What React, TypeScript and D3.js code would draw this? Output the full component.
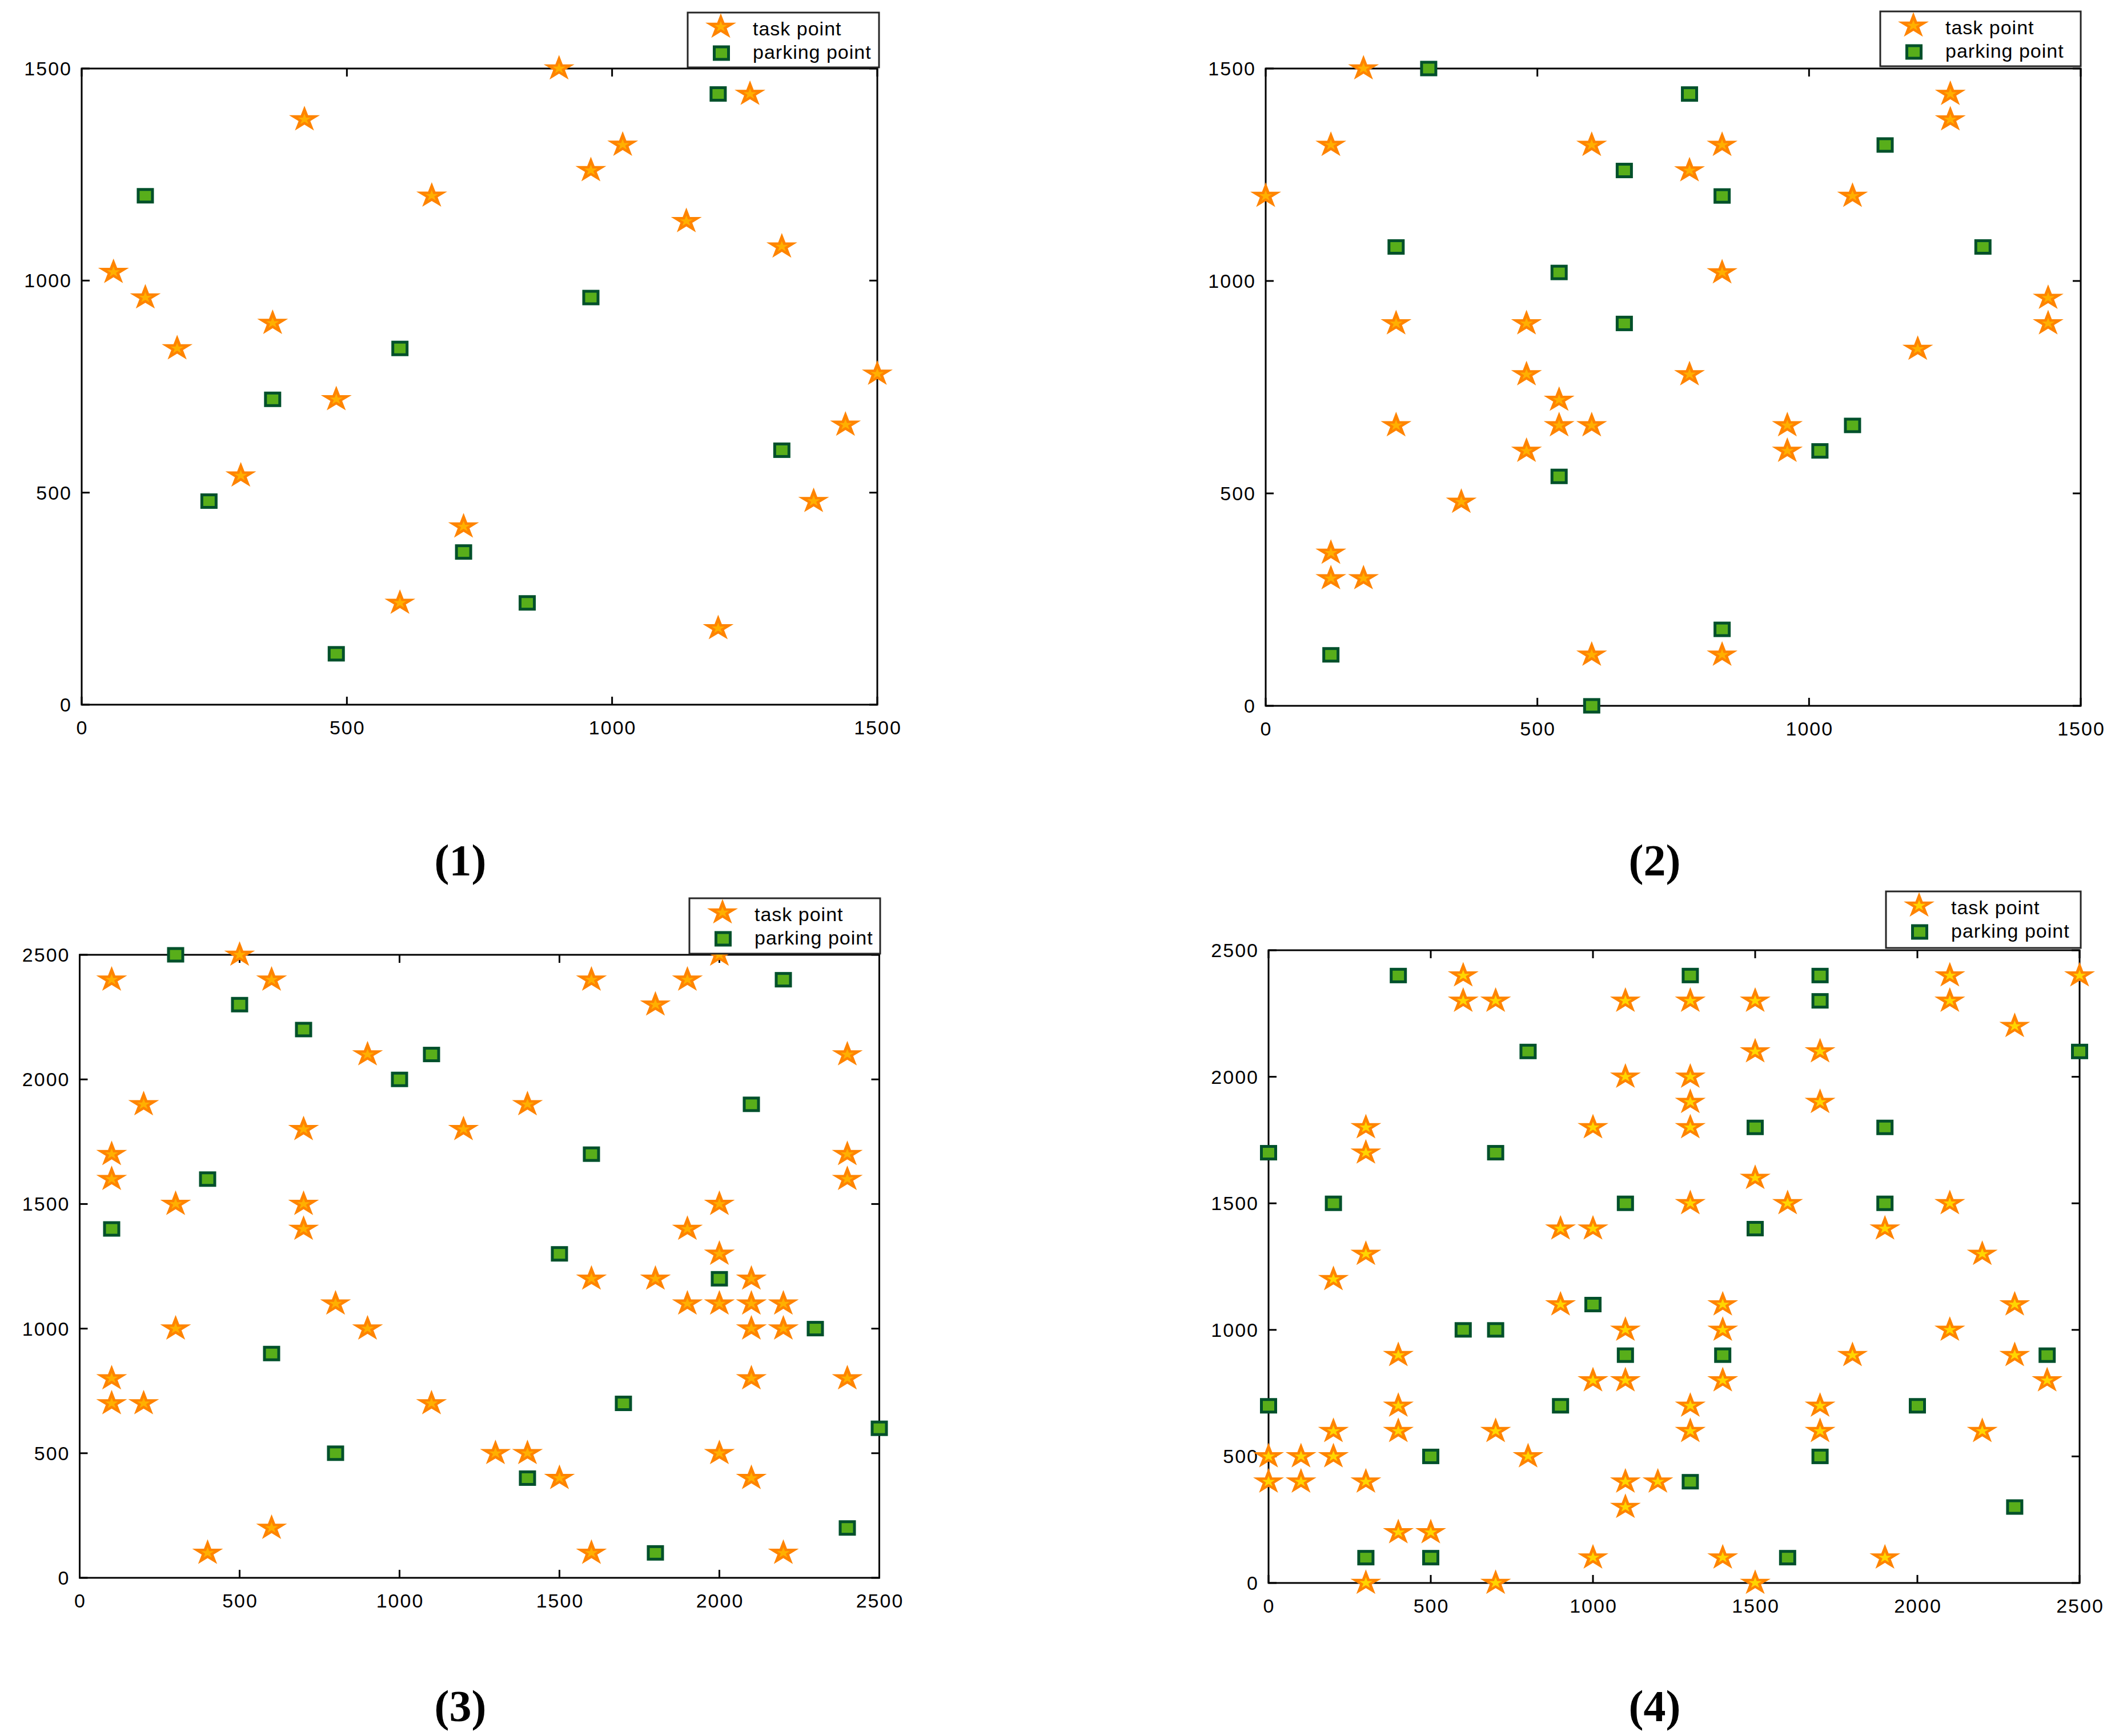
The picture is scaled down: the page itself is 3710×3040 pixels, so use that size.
import React, { useEffect } from 'react';
import * as d3 from 'd3';

const W = 3710;
const H = 3040;

// axis ticks and texts
const ticks1500 = [0, 500, 1000, 1500];
const ticks2500 = [0, 500, 1000, 1500, 2000, 2500];
const legendLabels = ['task point', 'parking point'];
const panelLabels = ['(1)', '(2)', '(3)', '(4)'];

// (1)
const task1 = [
  [60, 1020], [120, 960], [180, 840], [360, 900], [420, 1380], [480, 720], [300, 540],
  [660, 1200], [600, 240], [720, 420], [900, 1500], [960, 1260], [1020, 1320], [1140, 1140],
  [1260, 1440], [1320, 1080], [1200, 180], [1380, 480], [1440, 660], [1500, 780],
];
const park1 = [
  [120, 1200], [360, 720], [240, 480], [600, 840], [480, 120], [720, 360], [840, 240],
  [960, 960], [1200, 1440], [1320, 600],
];

// (2)
const task2 = [
  [0, 1200], [120, 1320], [180, 1500], [240, 900], [240, 660], [120, 360], [120, 300],
  [180, 300], [360, 480], [480, 900], [480, 780], [540, 720], [480, 600], [540, 660],
  [600, 660], [600, 1320], [600, 120], [780, 1260], [780, 780], [840, 1320], [840, 1020],
  [840, 120], [960, 660], [960, 600], [1080, 1200], [1200, 840], [1260, 1440], [1260, 1380],
  [1440, 960], [1440, 900],
];
const park2 = [
  [300, 1500], [240, 1080], [120, 120], [540, 1020], [540, 540], [660, 1260], [660, 900],
  [600, 0], [780, 1440], [840, 1200], [840, 180], [1020, 600], [1080, 660], [1140, 1320],
  [1320, 1080],
];

// (3)
const task3 = [
  [500, 2500], [100, 2400], [600, 2400], [900, 2100], [200, 1900], [700, 1800], [1200, 1800],
  [100, 1700], [100, 1600], [300, 1500], [700, 1500], [700, 1400], [800, 1100], [300, 1000],
  [900, 1000], [100, 800], [100, 700], [200, 700], [1100, 700], [600, 200], [400, 100],
  [2000, 2500], [1600, 2400], [1900, 2400], [1800, 2300], [2400, 2100], [1400, 1900],
  [2400, 1700], [2400, 1600], [2000, 1500], [1900, 1400], [2000, 1300], [1600, 1200],
  [1800, 1200], [2100, 1200], [1900, 1100], [2000, 1100], [2100, 1100], [2200, 1100],
  [2100, 1000], [2200, 1000], [2100, 800], [2400, 800], [1300, 500], [1400, 500], [1500, 400],
  [2000, 500], [2100, 400], [1600, 100], [2200, 100],
];
const park3 = [
  [300, 2500], [500, 2300], [700, 2200], [1100, 2100], [1000, 2000], [400, 1600], [100, 1400],
  [600, 900], [800, 500], [2200, 2400], [2100, 1900], [1600, 1700], [1500, 1300], [2000, 1200],
  [2300, 1000], [1700, 700], [1400, 400], [1800, 100], [2400, 200], [2500, 600],
];

// (4)
const task4 = [
  [600, 2400], [600, 2300], [700, 2300], [1100, 2300], [1100, 2000], [300, 1800], [300, 1700],
  [1000, 1800], [900, 1400], [1000, 1400], [300, 1300], [200, 1200], [900, 1100], [1100, 1000],
  [400, 900], [1000, 800], [1100, 800], [400, 700], [200, 600], [400, 600], [700, 600],
  [800, 500], [0, 500], [100, 500], [200, 500], [0, 400], [100, 400], [300, 400], [1100, 400],
  [1200, 400], [1100, 300], [400, 200], [500, 200], [1000, 100], [300, 0], [700, 0],
  [1300, 2300], [1500, 2300], [2100, 2400], [2100, 2300], [2500, 2400], [2300, 2200],
  [1500, 2100], [1700, 2100], [1300, 2000], [1300, 1900], [1700, 1900], [1300, 1800],
  [1500, 1600], [1300, 1500], [1600, 1500], [2100, 1500], [1900, 1400], [2200, 1300],
  [1400, 1100], [2300, 1100], [1400, 1000], [2100, 1000], [1800, 900], [2300, 900], [1400, 800],
  [2400, 800], [1300, 700], [1700, 700], [1300, 600], [1700, 600], [2200, 600], [1400, 100],
  [1900, 100], [1500, 0],
];
const park4 = [
  [400, 2400], [800, 2100], [0, 1700], [200, 1500], [700, 1700], [1100, 1500], [1000, 1100],
  [600, 1000], [700, 1000], [1100, 900], [0, 700], [900, 700], [500, 500], [300, 100],
  [500, 100], [1300, 2400], [1700, 2400], [1700, 2300], [1500, 1800], [1900, 1800],
  [2500, 2100], [1900, 1500], [1500, 1400], [1400, 900], [2400, 900], [2000, 700], [1700, 500],
  [1300, 400], [2300, 300], [1600, 100],
];

const panels = [
  { task: task1, park: park1, max: 1500, ticks: ticks1500, l: 143, r: 1536, t: 120, b: 1234,
    leg: { x: 1204, y: 22, w: 335, h: 96 }, face: '#FFB000', lab: { x: 806, y: 1533 } },
  { task: task2, park: park2, max: 1500, ticks: ticks1500, l: 2216, r: 3643, t: 120, b: 1236,
    leg: { x: 3292, y: 20, w: 351, h: 96 }, face: '#FFB000', lab: { x: 2897, y: 1533 } },
  { task: task3, park: park3, max: 2500, ticks: ticks2500, l: 139.5, r: 1539.5, t: 1672, b: 2763,
    leg: { x: 1207, y: 1573, w: 334, h: 97 }, face: '#FFB000', lab: { x: 806, y: 3014 } },
  { task: task4, park: park4, max: 2500, ticks: ticks2500, l: 2221, r: 3641, t: 1664, b: 2772,
    leg: { x: 3302, y: 1561, w: 341, h: 99 }, face: '#FFD600', lab: { x: 2897, y: 3014 } },
];

const ORANGE = '#FF8400';
const DARK_GREEN = '#00502B';
const GREEN = '#58AE1A';
const SANS = '"Liberation Sans", Arial, sans-serif';

const outerStar = d3.symbol().type(d3.symbolStar).size(905)();
const innerStar = d3.symbol().type(d3.symbolStar).size(165)();

const Star = ({ x, y, face }) => (
  <g transform={`translate(${x},${y}) scale(1,0.84)`}>
    <path d={outerStar} fill={ORANGE} />
    <path d={innerStar} fill={face} />
  </g>
);

const Square = ({ x, y }) => (
  <g transform={`translate(${x},${y})`}>
    <rect x={-15} y={-13.5} width={30} height={27} fill={DARK_GREEN} />
    <rect x={-10} y={-8.5} width={20} height={17} fill={GREEN} />
  </g>
);

const Panel = ({ p, label }) => {
  const xs = d3.scaleLinear().domain([0, p.max]).range([p.l, p.r]);
  const ys = d3.scaleLinear().domain([0, p.max]).range([p.b, p.t]);
  const tk = 14;
  return (
    <g>
      {p.ticks.map(v => (
        <g key={'t' + v}>
          <line x1={xs(v)} x2={xs(v)} y1={p.b} y2={p.b - tk} stroke="#000" strokeWidth={3} />
          <line x1={xs(v)} x2={xs(v)} y1={p.t} y2={p.t + tk} stroke="#000" strokeWidth={3} />
          <line x1={p.l} x2={p.l + tk} y1={ys(v)} y2={ys(v)} stroke="#000" strokeWidth={3} />
          <line x1={p.r} x2={p.r - tk} y1={ys(v)} y2={ys(v)} stroke="#000" strokeWidth={3} />
          <text x={xs(v) + 1} y={p.b + 52} textAnchor="middle" fontFamily={SANS} fontSize={34}
            letterSpacing={2}>{v}</text>
          <text x={p.l - 17} y={ys(v) + 12} textAnchor="end" fontFamily={SANS} fontSize={34}
            letterSpacing={2}>{v}</text>
        </g>
      ))}
      <rect x={p.l} y={p.t} width={p.r - p.l} height={p.b - p.t} fill="none" stroke="#000"
        strokeWidth={3} />
      {p.task.map((d, i) => <Star key={'s' + i} x={xs(d[0])} y={ys(d[1])} face={p.face} />)}
      {p.park.map((d, i) => <Square key={'q' + i} x={xs(d[0])} y={ys(d[1])} />)}
      <g transform={`translate(${p.leg.x},${p.leg.y})`}>
        <rect x={0} y={0} width={p.leg.w} height={p.leg.h} fill="#fff" stroke="#262626"
          strokeWidth={3} />
        <Star x={58} y={25} face={p.face} />
        <Square x={59} y={71} />
        <text x={114} y={40} fontFamily={SANS} fontSize={34} letterSpacing={1}>{legendLabels[0]}</text>
        <text x={114} y={81} fontFamily={SANS} fontSize={34} letterSpacing={1}>{legendLabels[1]}</text>
      </g>
      <text x={p.lab.x} y={p.lab.y} textAnchor="middle" fontFamily='"Liberation Serif", "Times New Roman", serif'
        fontWeight="bold" fontSize={78}>{label}</text>
    </g>
  );
};

export default function App() {
  useEffect(() => {
    document.body.style.margin = '0';
  }, []);
  return (
    <svg width={W} height={H} style={{ display: 'block', position: 'absolute', left: 0, top: 0 }}>
      <rect width={W} height={H} fill="#fff" />
      {panels.map((p, i) => <Panel key={i} p={p} label={panelLabels[i]} />)}
    </svg>
  );
}
